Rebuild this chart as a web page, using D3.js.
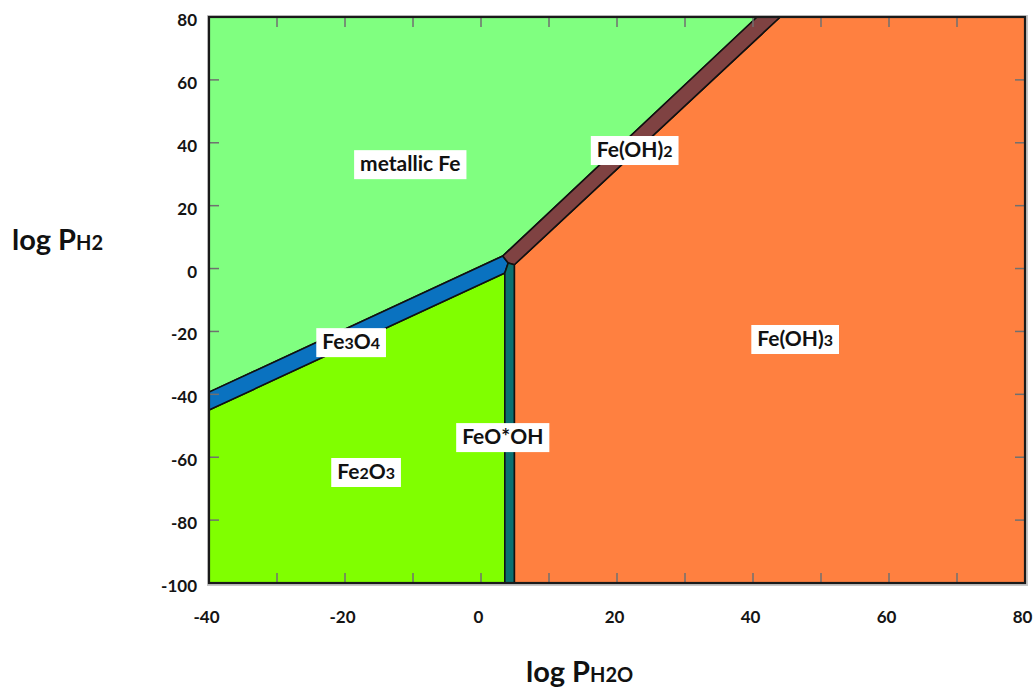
<!DOCTYPE html>
<html><head><meta charset="utf-8">
<script src="https://cdn.jsdelivr.net/npm/d3@7"></script>
<style>body{margin:0;background:#fff}svg{display:block}</style>
</head><body>
<svg id="c" width="1035" height="688"></svg>
<script>
// ---- data ----
const xDomain = [-40, 80];
const yDomain = [-100, 80];
const xTickLabels = [-40, -20, 0, 20, 40, 60, 80];
const yTickLabels = [80, 60, 40, 20, 0, -20, -40, -60, -80, -100];
const xMinorTicks = [-30, -20, -10, 0, 10, 20, 30, 40, 50, 60, 70];
const yMinorTicks = [60, 40, 20, 0, -20, -40, -60, -80];

const regionNames = ["metallic Fe", "Fe2O3", "Fe(OH)3", "Fe3O4", "Fe(OH)2", "FeO*OH"];
const regionColors = ["#80ff80", "#80ff00", "#ff8040", "#0a72c0", "#7f4242", "#0b7070"];
const polyFe = [[-40, 80], [40.6, 80], [3.2, 4], [-40, -39.3]];
const polyFe2O3 = [[-40, -45], [3.5, -1.4], [3.5, -100], [-40, -100]];
const polyFeOH3 = [[4.9, 1.2], [44, 80], [80, 80], [80, -100], [4.9, -100]];
const polyFe3O4 = [[-40, -39.3], [3.2, 4], [4.0, 1.8], [3.5, -1.4], [-40, -45]];
const polyFeOH2 = [[3.2, 4], [40.6, 80], [44, 80], [4.9, 1.2], [4.0, 1.8]];
const polyFeOOH = [[3.5, -1.4], [4.0, 1.8], [4.9, 1.2], [4.9, -100], [3.5, -100]];
const polygons = [polyFe, polyFe2O3, polyFeOH3, polyFe3O4, polyFeOH2, polyFeOOH];

// label texts as [text, isSubscript] pieces
const labelParts = [
  [["metallic Fe", 0]],
  [["Fe", 0], ["2", 1], ["O", 0], ["3", 1]],
  [["Fe(OH)", 0], ["3", 1]],
  [["Fe", 0], ["3", 1], ["O", 0], ["4", 1]],
  [["Fe(OH)", 0], ["2", 1]],
  [["FeO*OH", 0]]
];
const labelX = [-10.4, -16.9, 46.2, -19.1, 22.6, 3.2];
const labelY = [33.2, -64.7, -22.4, -23.4, 37.7, -53.6];

// ---- drawing ----
const svg = d3.select("#c");
const x = d3.scaleLinear(xDomain, [209, 1025]);
const y = d3.scaleLinear(yDomain, [583, 17]);
const font = "Lato, 'Open Sans', sans-serif";

const line = d3.line().x(d => x(d[0])).y(d => y(d[1]));

// shadow border
svg.append("rect").attr("x", x(-40) - 1).attr("y", y(80) - 1)
  .attr("width", x(80) - x(-40) + 3).attr("height", y(-100) - y(80) + 3)
  .attr("fill", "none").attr("stroke", "#c8c8c8").attr("stroke-width", 2);

svg.append("g").selectAll("path").data(polygons).join("path")
  .attr("d", d => line(d) + "Z")
  .attr("fill", (d, i) => regionColors[i])
  .attr("stroke", "#111").attr("stroke-width", 1.6).attr("stroke-linejoin", "round");

// ticks inward
const tg = svg.append("g").attr("stroke", "#707070").attr("stroke-width", 1.5);
xMinorTicks.forEach(v => {
  tg.append("line").attr("x1", x(v)).attr("x2", x(v)).attr("y1", y(-100)).attr("y2", y(-100) - 10);
  tg.append("line").attr("x1", x(v)).attr("x2", x(v)).attr("y1", y(80)).attr("y2", y(80) + 10);
});
yMinorTicks.forEach(v => {
  tg.append("line").attr("y1", y(v)).attr("y2", y(v)).attr("x1", x(-40)).attr("x2", x(-40) + 10);
  tg.append("line").attr("y1", y(v)).attr("y2", y(v)).attr("x1", x(80)).attr("x2", x(80) - 10);
});

// frame
svg.append("rect").attr("x", x(-40)).attr("y", y(80))
  .attr("width", x(80) - x(-40)).attr("height", y(-100) - y(80))
  .attr("fill", "none").attr("stroke", "#1a1a1a").attr("stroke-width", 2.2);

// axes labels using d3 axes (no domain/ticks lines)
const xAxis = d3.axisBottom(x).tickValues(xTickLabels).tickSize(0).tickPadding(0).tickFormat(d => String(d));
const gx = svg.append("g").attr("transform", `translate(-3,${y(-100) + 28})`).call(xAxis);
const yAxis = d3.axisLeft(y).tickValues(yTickLabels).tickSize(0).tickPadding(0).tickFormat(d => String(d));
const gy = svg.append("g").attr("transform", `translate(${x(-40) - 12},3)`).call(yAxis);
[gx, gy].forEach(g => {
  g.select(".domain").remove();
  g.selectAll("text").attr("font-family", font).attr("font-weight", "bold")
    .attr("font-size", 17).attr("fill", "#141414");
});

// region labels
labelParts.forEach((parts, i) => {
  const g = svg.append("g");
  const t = g.append("text").attr("x", x(labelX[i])).attr("y", y(labelY[i]) + 7)
    .attr("text-anchor", "middle").attr("font-family", font)
    .attr("font-weight", "bold").attr("font-size", 21).attr("fill", "#111");
  parts.forEach(([s, sub]) => {
    t.append("tspan").text(s).attr("font-size", sub ? 16 : 21);
  });
  const b = t.node().getBBox();
  g.insert("rect", "text").attr("x", b.x - 6).attr("y", y(labelY[i]) - 14)
    .attr("width", b.width + 12).attr("height", 29).attr("fill", "#fff");
});

// axis titles
const yt = svg.append("text").attr("x", 12).attr("y", 250)
  .attr("font-family", font).attr("font-weight", "bold").attr("font-size", 29).attr("fill", "#111");
yt.append("tspan").text("log P");
yt.append("tspan").text("H2").attr("font-size", 20);

const xt = svg.append("text").attr("x", 526).attr("y", 682)
  .attr("font-family", font).attr("font-weight", "bold").attr("font-size", 29).attr("fill", "#111");
xt.append("tspan").text("log P");
xt.append("tspan").text("H2O").attr("font-size", 20);
</script>
</body></html>
